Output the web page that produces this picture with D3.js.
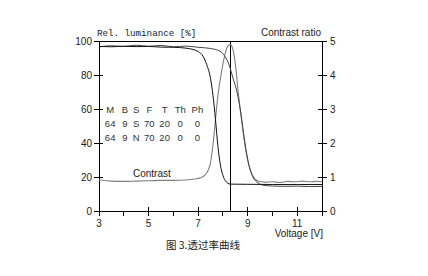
<!DOCTYPE html>
<html><head><meta charset="utf-8">
<script src="https://cdn.jsdelivr.net/npm/d3@7/dist/d3.min.js"></script>
<style>body{margin:0;background:#fff}svg{display:block}</style>
</head><body>
<script>
// Data
const voltS = [3,3.5,4,4.5,5,5.5,6,6.5,6.8,7.0,7.2,7.35,7.5,7.6,7.7,7.8,7.9,8.0,8.1,8.2,8.3,9,10,11,12];
const lumS  = [96.8,96.6,96.9,96.7,96.8,96.4,96.3,95.8,95,93.8,91,86,78,68,54,38,27,21,17.8,16.3,15.8,15.7,15.6,15.6,15.6];
const voltN = [3,3.5,4,4.5,5,5.5,6,6.5,7,7.5,7.88,8.08,8.25,8.41,8.57,8.73,8.89,9.05,9.21,9.42,9.7,10,10.5,11,11.5,12];
const lumN  = [96.5,97.2,96.8,97.5,96.9,97.4,96.6,97,96.3,95.6,94,91,86,78,70,57,40,27,20,16.5,15,14.7,14.5,14.6,14.4,14.5];
const voltC = [3,3.5,4,4.5,5,5.5,6,6.5,6.87,7.1,7.28,7.48,7.6,7.68,7.8,7.96,8.08,8.2,8.29,8.41,8.53,8.61,8.73,8.89,9.05,9.21,9.42,9.7,10,10.3,10.6,10.9,11.2,11.5,11.8,12];
const contrast = [0.91,0.88,0.87,0.88,0.89,0.9,0.9,0.91,0.94,0.98,1.06,1.35,1.94,2.53,3.4,4.15,4.6,4.85,4.9,4.74,4.15,3.56,2.82,1.94,1.35,1.03,0.88,0.85,0.86,0.84,0.87,0.86,0.88,0.86,0.87,0.86];
const markerVolt = 8.3;
const xTicks = [3,4,5,6,7,8,9,10,11,12];
const xLabels = [3,5,7,9,11];
const yTicks = [0,20,40,60,80,100];
const y2Ticks = [0,1,2,3,4,5];
const tableRows = [
  ["M","B","S","F","T","Th","Ph"],
  ["64","9","S","70","20","0","0"],
  ["64","9","N","70","20","0","0"]
];
const tableCols = [3.45,4.05,4.5,5.03,5.65,6.28,6.97];

const W=428,H=276;
const svg=d3.select("body").append("svg").attr("width",W).attr("height",H);
const x=d3.scaleLinear().domain([3,12]).range([99,322]);
const y=d3.scaleLinear().domain([0,100]).range([211,41]);
const y2=d3.scaleLinear().domain([0,5]).range([211,41]);
const sans="Arial, 'Liberation Sans', sans-serif";

// frame lines
const g=svg.append("g").attr("stroke","#000").attr("stroke-width",1).attr("shape-rendering","crispEdges");
g.append("line").attr("x1",x(3)).attr("x2",x(12)).attr("y1",y(100)).attr("y2",y(100));
g.append("line").attr("x1",x(3)).attr("x2",x(12)).attr("y1",y(0)).attr("y2",y(0));
g.append("line").attr("x1",x(3)).attr("x2",x(3)).attr("y1",y(0)).attr("y2",y(100));
g.append("line").attr("x1",x(12)).attr("x2",x(12)).attr("y1",y(0)).attr("y2",y(100));
g.append("line").attr("x1",x(markerVolt)).attr("x2",x(markerVolt)).attr("y1",y(0)).attr("y2",y(100));

// x ticks
xTicks.forEach(v=>{
  const labeled = xLabels.includes(v);
  g.append("line").attr("x1",x(v)).attr("x2",x(v)).attr("y1",labeled?y(0)-4:y(0)).attr("y2",y(0)+5);
});
svg.append("g").selectAll("text").data(xLabels).join("text")
  .attr("x",d=>x(d)).attr("y",227).attr("text-anchor","middle")
  .attr("font-family",sans).attr("font-size",10).attr("fill","#222").text(d=>d);
// left ticks
yTicks.forEach(v=>{ if(v>0&&v<100) g.append("line").attr("x1",x(3)-5).attr("x2",x(3)+4).attr("y1",y(v)).attr("y2",y(v));
  else g.append("line").attr("x1",x(3)-5).attr("x2",x(3)).attr("y1",y(v)).attr("y2",y(v)); });
svg.append("g").selectAll("text").data(yTicks).join("text")
  .attr("x",92).attr("y",d=>y(d)+3.5).attr("text-anchor","end")
  .attr("font-family",sans).attr("font-size",10).attr("fill","#222").text(d=>d);
// right ticks
y2Ticks.forEach(v=>{ if(v>0&&v<5) g.append("line").attr("x1",x(12)-4).attr("x2",x(12)+5).attr("y1",y2(v)).attr("y2",y2(v));
  else g.append("line").attr("x1",x(12)).attr("x2",x(12)+5).attr("y1",y2(v)).attr("y2",y2(v)); });
svg.append("g").selectAll("text").data(y2Ticks).join("text")
  .attr("x",330).attr("y",d=>y2(d)+3.5).attr("text-anchor","start")
  .attr("font-family",sans).attr("font-size",10).attr("fill","#222").text(d=>d);

// curves
const lineL=d3.line().x(d=>x(d[0])).y(d=>y(d[1])).curve(d3.curveMonotoneX);
const lineR=d3.line().x(d=>x(d[0])).y(d=>y2(d[1])).curve(d3.curveMonotoneX);
svg.append("path").attr("d",lineR(d3.zip(voltC,contrast))).attr("fill","none").attr("stroke","#808080").attr("stroke-width",1.1);
svg.append("path").attr("d",lineL(d3.zip(voltN,lumN))).attr("fill","none").attr("stroke","#444").attr("stroke-width",1);
svg.append("path").attr("d",lineL(d3.zip(voltS,lumS))).attr("fill","none").attr("stroke","#111").attr("stroke-width",1);

// titles
svg.append("text").attr("x",97).attr("y",36).attr("font-family","'Liberation Mono', 'DejaVu Sans Mono', monospace")
  .attr("font-size",9.2).attr("fill","#222").text("Rel. luminance [%]");
svg.append("text").attr("x",321).attr("y",36).attr("text-anchor","end").attr("font-family",sans)
  .attr("font-size",10).attr("fill","#222").text("Contrast ratio");
svg.append("text").attr("x",323).attr("y",237).attr("text-anchor","end").attr("font-family",sans)
  .attr("font-size",10).attr("fill","#222").text("Voltage [V]");
svg.append("text").attr("x",133).attr("y",177).attr("font-family",sans)
  .attr("font-size",10).attr("fill","#222").text("Contrast");

// table
tableRows.forEach((row,i)=>{
  row.forEach((t,j)=>{
    svg.append("text").attr("x",x(tableCols[j])).attr("y",y(60)+3.5+i*14)
      .attr("text-anchor","middle").attr("font-family",sans).attr("font-size",9.5).attr("fill","#333").text(t);
  });
});

// caption
svg.append("text").attr("x",203).attr("y",249).attr("text-anchor","middle")
  .attr("font-family","'Noto Sans CJK SC', sans-serif").attr("font-size",10.5).attr("fill","#222").attr("xml:space","preserve").text("图 3.透过率曲线");
</script>
</body></html>
